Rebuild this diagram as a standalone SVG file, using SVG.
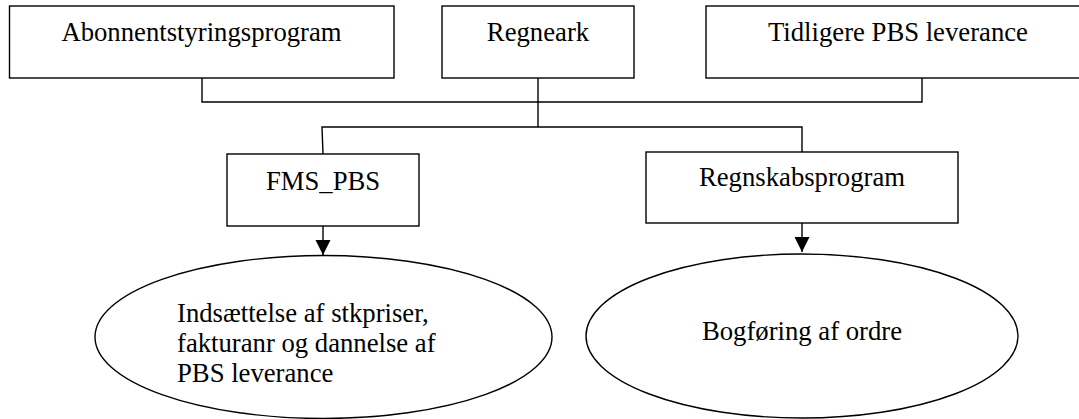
<svg xmlns="http://www.w3.org/2000/svg" width="1079" height="419" viewBox="0 0 1079 419">
<style>
.box{fill:#fff;stroke:#000;stroke-width:1.4}
.ell{fill:#fff;stroke:#000;stroke-width:1.4}
.ln{fill:none;stroke:#000;stroke-width:1.4}
</style>
<defs>
<marker id="arr" markerUnits="userSpaceOnUse" markerWidth="16" markerHeight="16" viewBox="0 0 16 16" refX="15" refY="8" orient="auto">
<path d="M0,0.5 L15,8 L0,15.5 Z" fill="#000"/>
</marker>
</defs>
<g id="connectors">
<polyline class="ln" points="202,78 202,102 922,102 922,78"/>
<line class="ln" x1="538" y1="78" x2="538" y2="127"/>
<polyline class="ln" points="323,154 322,127 802,127 802,152"/>
<line class="ln" x1="323" y1="226" x2="323" y2="255" marker-end="url(#arr)"/>
<line class="ln" x1="802" y1="223" x2="802" y2="252" marker-end="url(#arr)"/>
</g>
<g font-family="Liberation Serif" font-size="26.7" fill="#000">
<g id="abonnent">
<rect class="box" x="9.5" y="6" width="384.5" height="72"/>
<text font-family="Liberation Serif" text-anchor="middle" x="201.5" y="41">Abonnentstyringsprogram</text>
</g>
<g id="regneark">
<rect class="box" x="442" y="6" width="192" height="72"/>
<text font-family="Liberation Serif" text-anchor="middle" x="538" y="41">Regneark</text>
</g>
<g id="tidligere">
<rect class="box" x="706" y="6" width="380" height="72"/>
<text font-family="Liberation Serif" x="768" y="41">Tidligere PBS leverance</text>
</g>
<g id="fms">
<rect class="box" x="227" y="154" width="192" height="72"/>
<text font-family="Liberation Serif" text-anchor="middle" x="323" y="190">FMS_PBS</text>
</g>
<g id="regnskab">
<rect class="box" x="646" y="152" width="312" height="71"/>
<text font-family="Liberation Serif" text-anchor="middle" x="802" y="186">Regnskabsprogram</text>
</g>
<g id="indsaettelse">
<ellipse class="ell" cx="323.5" cy="337" rx="228.5" ry="81.5"/>
<text font-family="Liberation Serif" x="177" y="322">Indsættelse af stkpriser,</text>
<text font-family="Liberation Serif" x="177" y="352">fakturanr og dannelse af</text>
<text font-family="Liberation Serif" x="177" y="382">PBS leverance</text>
</g>
<g id="bogfoering">
<ellipse class="ell" cx="802" cy="336" rx="216" ry="82"/>
<text font-family="Liberation Serif" text-anchor="middle" x="802" y="340">Bogføring af ordre</text>
</g>
</g>
</svg>
